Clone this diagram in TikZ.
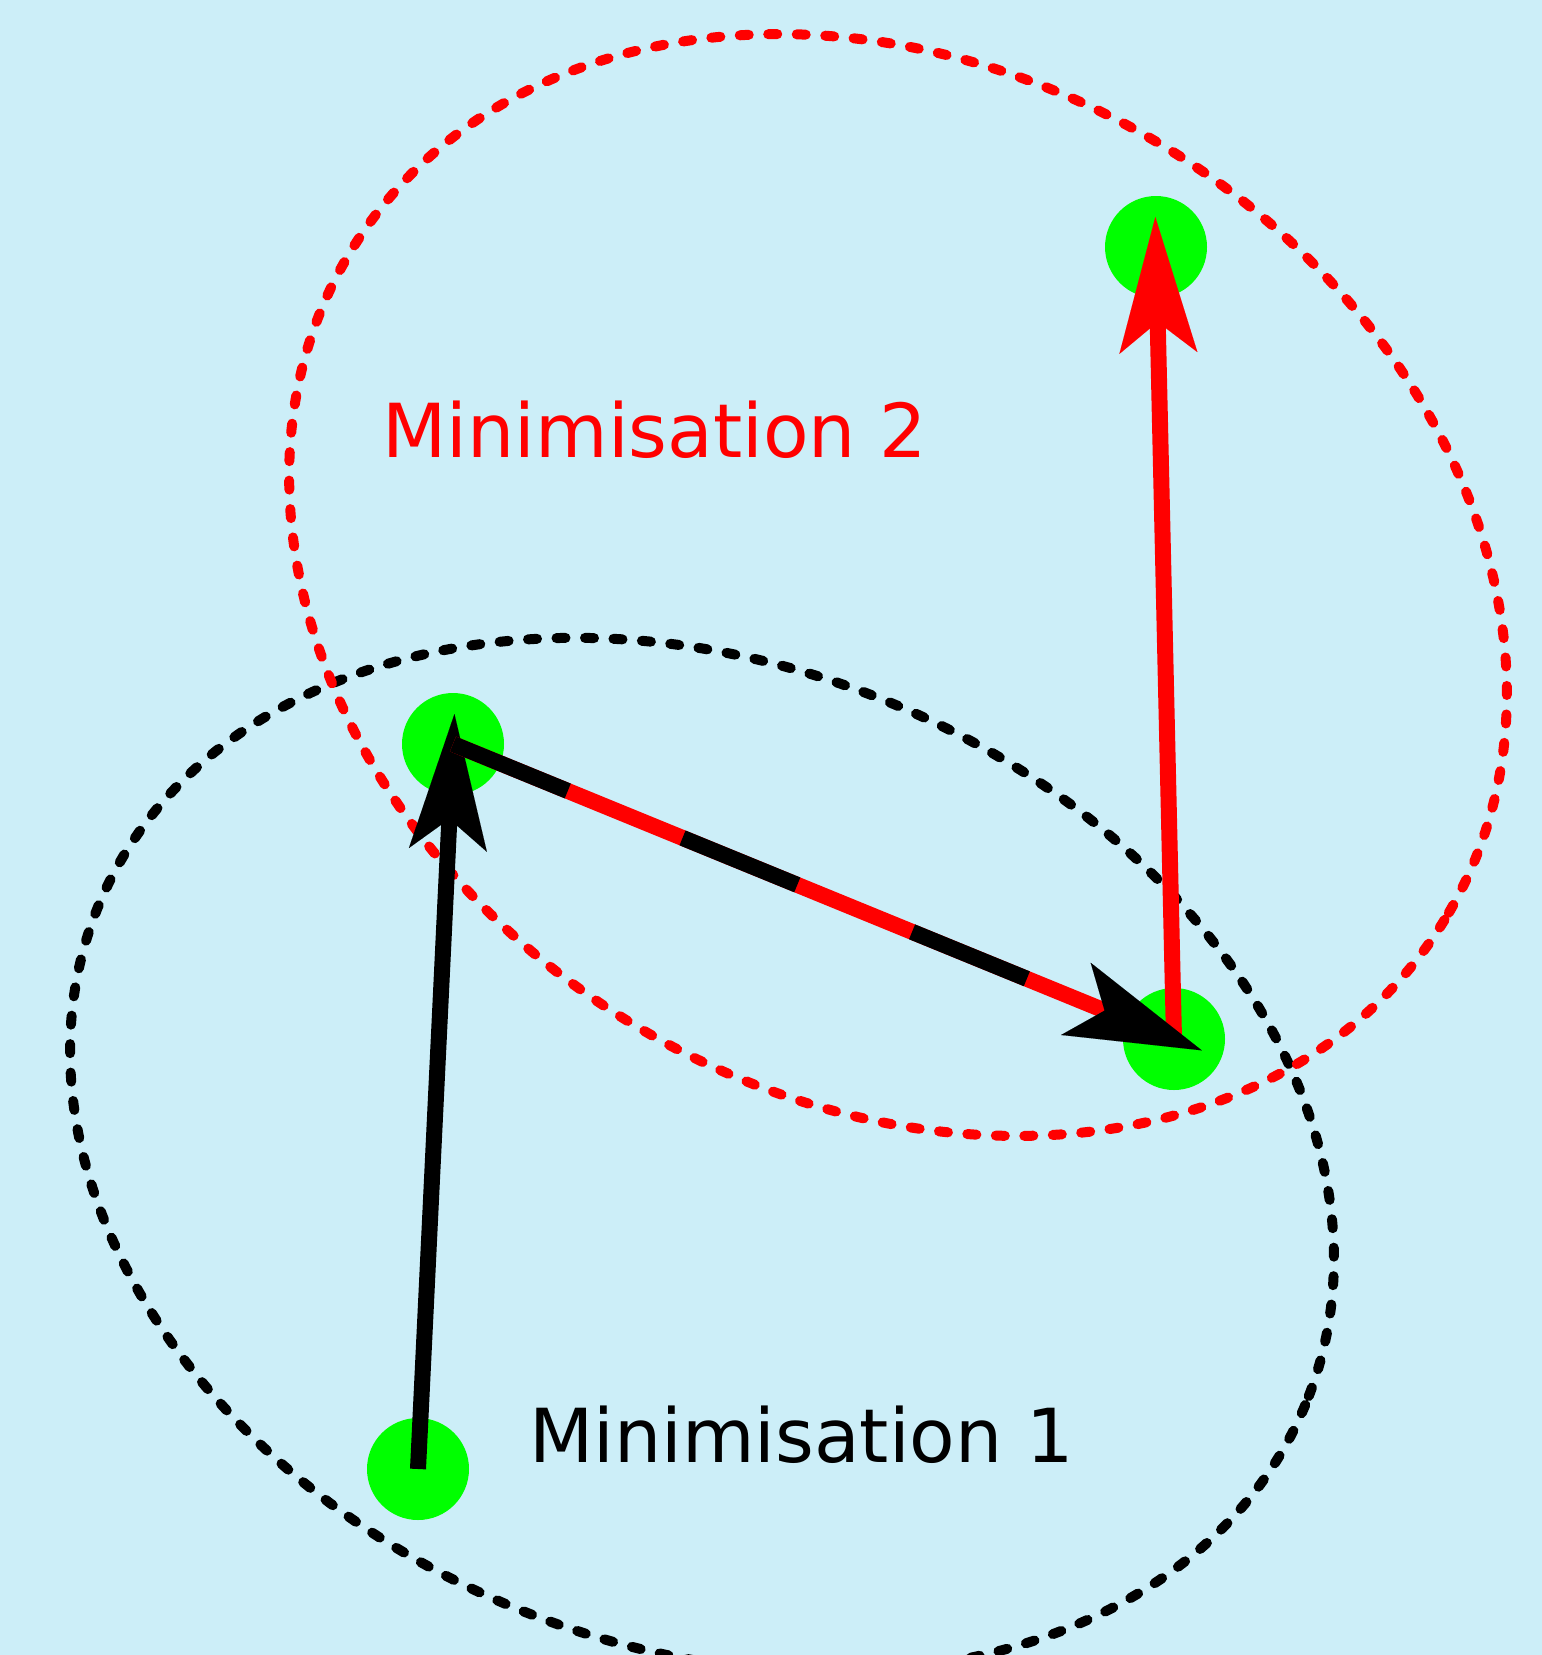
\documentclass[tikz,border=0pt]{standalone}
\usepackage{fontspec}
\setmainfont{DejaVu Sans}
\usetikzlibrary{arrows.meta}
\definecolor{bg}{RGB}{204,238,248}
\definecolor{dotgreen}{RGB}{0,255,0}
\tikzset{
  dot/.style={circle, fill=dotgreen, draw=none, minimum size=102pt, inner sep=0pt},
  region/.style={line width=10pt, dash pattern=on 9pt off 19.5pt, line cap=round},
  bigarrow/.style={line width=16pt, shorten >=-30pt,
    -{Stealth[length=136pt, width=78pt, inset=31pt, line width=0.01pt]}},
  lbl/.style={anchor=base west, inner sep=0pt, font=\fontsize{74.5}{90}\selectfont}
}
\begin{document}
\begin{tikzpicture}[x=1pt,y=-1pt]
\fill[bg] (0,0) rectangle (1542,1655);
\useasboundingbox (0,0) rectangle (1542,1655);
% ellipses
\draw[region, black, rotate around={-22.5:(702,1155)}] (702,1155) ellipse [x radius=653, y radius=490];
\draw[region, red, rotate around={-31.5:(898,585)}] (898,585) ellipse [x radius=641, y radius=513];
% dots
\node[dot] (A) at (1156,247) {};
\node[dot] (B) at (453,744) {};
\node[dot] (C) at (1174,1039) {};
\node[dot] (D) at (418,1469) {};
% labels
\node[lbl, text=red] (m2) at (382.5,457) {Minimisation 2};
\node[lbl, text=black] (m1) at (529,1462) {Minimisation 1};
% arrows
\draw[bigarrow, black] (D.center) -- (B.center);
\draw[bigarrow, red] (C.center) -- (A.center);
\draw[line width=16pt, red, shorten >=60pt] (B.center) -- (C.center);
\draw[bigarrow, black, dash pattern=on 124pt off 124pt] (B.center) -- (C.center);
\end{tikzpicture}
\end{document}
